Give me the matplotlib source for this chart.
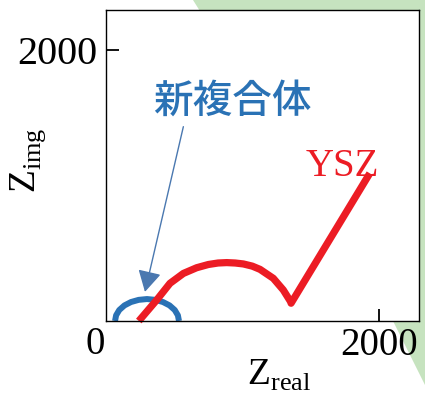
import matplotlib.pyplot as plt
from matplotlib.patches import Polygon

plt.rcParams['mathtext.fontset'] = 'custom'
plt.rcParams['mathtext.rm'] = 'Liberation Serif'

# Nyquist-style curves (Z_real, Z_img)
ysz_real = [240, 371, 468, 566, 663, 749, 820, 883, 945, 1005, 1070, 1127, 1224, 1297, 1351, 1354, 1590, 1930]
ysz_img = [0, 155, 278, 351, 393, 417, 428, 431, 428, 421, 405, 381, 315, 229, 142, 131, 524, 1090]

new_real = [66, 74, 97, 135, 183, 239, 300, 361, 417, 465, 503, 526, 534]
new_img = [0, 42, 81, 115, 140, 156, 162, 156, 140, 115, 81, 42, 0]

x_ticks = [2000]
y_ticks = [2000]
label_new = "新複合体"
label_ysz = "YSZ"

W, H = 425, 401
fig = plt.figure(figsize=(W / 100, H / 100), dpi=100)

# green diagonal band behind the plot
band = Polygon([(193 / W, 1), (1, 1), (1, 1 - 385 / H), (389 / W, 1 - 313 / H)],
               closed=True, transform=fig.transFigure, facecolor='#c6e3bf',
               edgecolor='none', zorder=-5)
fig.patches.append(band)

ax = fig.add_axes([106 / W, 1 - 321 / H, 313 / W, 311 / H])
ax.set_zorder(1)
ax.set_facecolor('white')
ax.set_xlim(0, 2290)
ax.set_ylim(0, 2295)

ax.plot(new_real, new_img, color='#2a72b5', lw=4.3, solid_capstyle='butt',
        solid_joinstyle='round', clip_on=False)
ax.plot(ysz_real, ysz_img, color='#ec1c24', lw=5.2, solid_capstyle='butt',
        solid_joinstyle='round', clip_on=False)

ax.annotate('', xy=(285, 215), xytext=(566, 1434),
            arrowprops=dict(arrowstyle='-|>,head_length=0.65,head_width=0.36',
                            mutation_scale=20, color='#4a78b0', lw=1.0,
                            shrinkA=0, shrinkB=0))

ax.text(922, 1616, label_new, color='#2a72b5', fontsize=28.5, ha='center',
        va='center', family=['Noto Sans CJK JP', 'DejaVu Sans'], weight='medium')
ax.text(1727, 1070, label_ysz, color='#ec1c24', fontsize=28, ha='center',
        va='baseline', family='Liberation Serif')

for s in ax.spines.values():
    s.set_linewidth(1.0)

ax.set_xticks(x_ticks)
ax.set_yticks(y_ticks)
ax.set_xticklabels([str(v) for v in x_ticks], family='Liberation Serif', fontsize=28)
ax.set_yticklabels([str(v) for v in y_ticks], family='Liberation Serif', fontsize=29)
ax.tick_params(axis='both', direction='in', length=9, width=1.3)
ax.tick_params(axis='x', pad=4)
ax.tick_params(axis='y', pad=6.5)

# origin label
fig.text(95 / W, 1 - 354 / H, '0', family='Liberation Serif', fontsize=28,
         ha='center', va='baseline')

fig.text(247 / W, 1 - 385 / H, r'$\mathrm{Z}_{\mathrm{real}}$', fontsize=27,
         ha='left', va='baseline')
fig.text(35 / W, 1 - 193 / H, r'$\mathrm{Z}_{\mathrm{img}}$', fontsize=27,
         ha='left', va='baseline', rotation=90, rotation_mode='anchor')

fig.savefig('out.png', dpi=100, facecolor='white')
